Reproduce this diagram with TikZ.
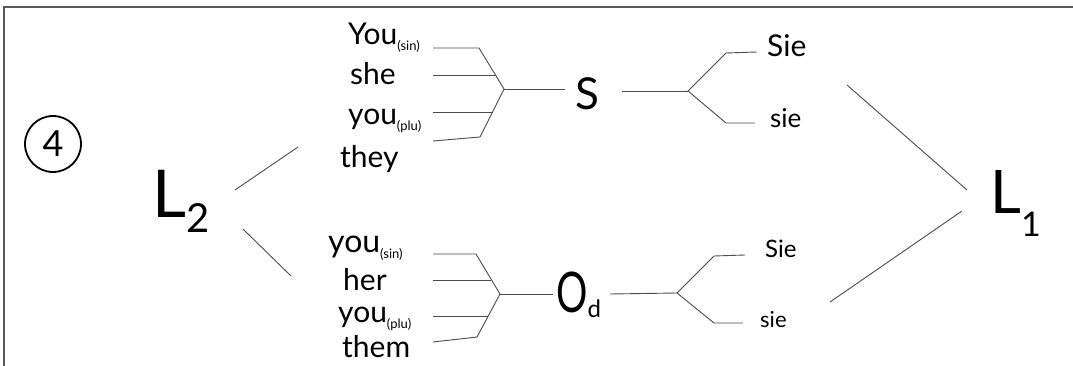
\documentclass[tikz,border=0pt]{standalone}
\usepackage{fontspec}
\setmainfont{Lato}
\newcommand{\mysub}[1]{\raisebox{-0.2em}{\fontsize{13}{13}\selectfont #1}}
\newcommand{\fs}[1]{\fontsize{#1}{#1}\selectfont}
\begin{document}
\begin{tikzpicture}[x=1pt,y=-1pt]
\tikzset{
  word/.style={anchor=base west, inner sep=0pt, font=\fs{30}},
  link/.style={draw=black!70, line width=0.9pt},
  frame/.style={draw=black!65, line width=2pt},
}
\useasboundingbox (0,0) rectangle (1073,366);
\fill[white] (0,0) rectangle (1073,366);
\draw[frame] (4,366) -- (4,7.5) -- (1073,7.5);

% circled number
\node[draw, circle, line width=1.8pt, minimum size=56pt, inner sep=0pt, font=\fs{36}] (c4) at (53,144) {4};

% L2 and L1
\node[anchor=base west, inner sep=0pt] (L2) at (152,218) {\fs{66}L\raisebox{-15pt}{\fs{40}2}};
\node[anchor=base west, inner sep=0pt] (L1) at (990,213) {\fs{60}L\raisebox{-24pt}{\fs{34}1}};

% upper words
\node[word] (ysin) at (348,45) {You\mysub{(sin)}};
\node[word] (she) at (350,85) {she};
\node[word] (yplu) at (348,125) {you\mysub{(plu)}};
\node[word] (they) at (340,168) {they};
\node[anchor=base west, inner sep=0pt, font=\fs{44}] (S) at (575,110) {S};
\node[anchor=base west, inner sep=0pt, font=\fs{30}] (sie1) at (767,57) {Sie};
\node[anchor=base west, inner sep=0pt, font=\fs{26}] (sie2) at (770,128) {sie};

% lower words
\node[word, font=\fs{32}] (ysin2) at (328,252) {you\mysub{(sin)}};
\node[word] (her) at (343,290) {her};
\node[word] (yplu2) at (338,322) {you\mysub{(plu)}};
\node[word] (them) at (342,357) {them};
\node[anchor=base west, inner sep=0pt] (Od) at (556,312) {\scalebox{0.7}[1]{\fs{56}O}\raisebox{-5pt}{\fs{24}d}};
\node[anchor=base west, inner sep=0pt, font=\fs{24}] (sie3) at (765,257) {Sie};
\node[anchor=base west, inner sep=0pt, font=\fs{22}] (sie4) at (760,327) {sie};

% upper tree coordinates
\coordinate (u1a) at (433,48);  \coordinate (u1b) at (479,48);
\coordinate (u2a) at (433,75);  \coordinate (u2b) at (495,75);
\coordinate (u3a) at (433,112); \coordinate (u3b) at (492,112);
\coordinate (u4a) at (433,141); \coordinate (u4b) at (480,137);
\coordinate (uj) at (504,89);   \coordinate (uS1) at (565,89);
\coordinate (uS2) at (622,91);  \coordinate (uk) at (688,91);
\coordinate (uk1) at (726,53);  \coordinate (uk1e) at (757,52);
\coordinate (uk2) at (726,123); \coordinate (uk2e) at (755,123);

% lower tree coordinates
\coordinate (l1a) at (433,254); \coordinate (l1b) at (476,254);
\coordinate (l2a) at (433,280); \coordinate (l2b) at (491,280);
\coordinate (l3a) at (433,316); \coordinate (l3b) at (488,316);
\coordinate (l4a) at (433,342); \coordinate (l4b) at (477,337);
\coordinate (lj) at (500,294);  \coordinate (lO1) at (553,294);
\coordinate (lO2) at (610,294); \coordinate (lk) at (677,293);
\coordinate (lk1) at (714,256); \coordinate (lk1e) at (745,255);
\coordinate (lk2) at (714,323); \coordinate (lk2e) at (743,323);

% L connectors
\coordinate (a1) at (235,190); \coordinate (a2) at (298,147);
\coordinate (b1) at (243,229); \coordinate (b2) at (291,276);
\coordinate (c1) at (847,85);  \coordinate (c2) at (967,190);
\coordinate (d1) at (962,211); \coordinate (d2) at (830,302);

\draw[link] (a1) -- (a2);
\draw[link] (b1) -- (b2);
\draw[link] (c1) -- (c2);
\draw[link] (d1) -- (d2);

\draw[link] (u1a) -- (u1b) -- (uj) -- (u4b) -- (u4a);
\draw[link] (u2a) -- (u2b);
\draw[link] (u3a) -- (u3b);
\draw[link] (uj) -- (uS1);
\draw[link] (uS2) -- (uk);
\draw[link] (uk1e) -- (uk1) -- (uk) -- (uk2) -- (uk2e);

\draw[link] (l1a) -- (l1b) -- (lj) -- (l4b) -- (l4a);
\draw[link] (l2a) -- (l2b);
\draw[link] (l3a) -- (l3b);
\draw[link] (lj) -- (lO1);
\draw[link] (lO2) -- (lk);
\draw[link] (lk1e) -- (lk1) -- (lk) -- (lk2) -- (lk2e);
\end{tikzpicture}
\end{document}
